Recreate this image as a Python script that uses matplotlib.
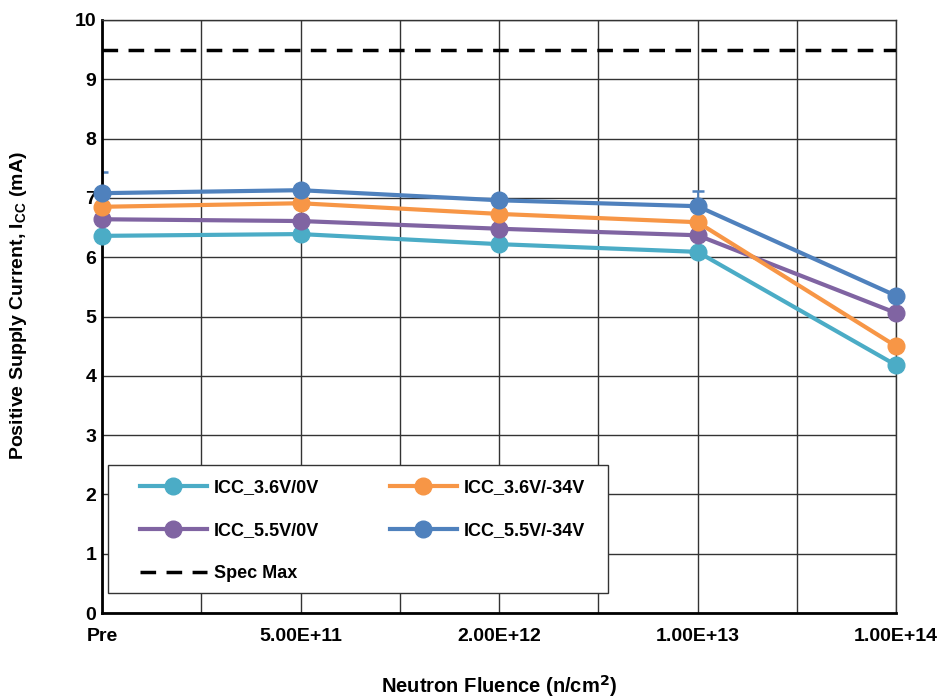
import matplotlib
matplotlib.use("Agg")
from matplotlib import pyplot as plt
from matplotlib.patches import Rectangle
import numpy as np

plt.rcParams['font.family'] = ['Liberation Sans', 'DejaVu Sans']

categories = ["Pre", "5.00E+11", "2.00E+12", "1.00E+13", "1.00E+14"]
icc_36_0 = [6.36, 6.39, 6.22, 6.09, 4.18]
icc_36_34 = [6.85, 6.91, 6.73, 6.59, 4.50]
icc_55_0 = [6.64, 6.61, 6.48, 6.37, 5.06]
icc_55_34 = [7.08, 7.13, 6.96, 6.86, 5.35]
spec_max = 9.5
# upper error bars seen on ICC_5.5V/-34V
err_idx = [0, 3]
err_up = [0.35, 0.26]

colmap = {"ICC_3.6V/0V": "#4bacc6", "ICC_3.6V/-34V": "#f79646",
          "ICC_5.5V/0V": "#8064a2", "ICC_5.5V/-34V": "#4f81bd"}

fig = plt.figure(figsize=(9.41, 6.99), dpi=100)
ax = fig.add_axes([0.1084, 0.123, 0.8438, 0.8484])
x = np.arange(len(categories))

series = [("ICC_3.6V/0V", icc_36_0), ("ICC_5.5V/0V", icc_55_0),
          ("ICC_3.6V/-34V", icc_36_34), ("ICC_5.5V/-34V", icc_55_34)]
handles = {}
for name, vals in series:
    h, = ax.plot(x, vals, color=colmap[name], lw=3, marker="o", ms=12,
                 label=name, zorder=3, clip_on=False)
    handles[name] = h

ex = [x[i] for i in err_idx]
ey = [icc_55_34[i] for i in err_idx]
ax.errorbar(ex, ey, yerr=[np.zeros(len(err_up)), err_up], fmt="none",
            ecolor=colmap["ICC_5.5V/-34V"], elinewidth=1.3, capsize=4.5,
            capthick=1.8, zorder=2)

spec, = ax.plot([0, 4], [spec_max, spec_max], color="black", lw=2.5,
                dashes=(4.5, 3), label="Spec Max", zorder=3)

ax.set_xlim(0, 4)
ax.set_ylim(0, 10)
ax.set_xticks(x)
ax.set_xticklabels(categories)
ax.set_xticks(np.arange(0.5, 4, 1), minor=True)
ax.set_yticks(range(0, 11))
ax.tick_params(which="both", length=0)
ax.tick_params(axis="x", pad=11)
ax.tick_params(axis="y", pad=4)
for lab in ax.get_xticklabels() + ax.get_yticklabels():
    lab.set_fontweight("bold")
    lab.set_fontsize(14)
ax.grid(True, which="both", color="#333333", lw=1)
ax.set_axisbelow(True)
for s in ["top", "right"]:
    ax.spines[s].set_color("#333333")
    ax.spines[s].set_linewidth(1)
for s in ["left", "bottom"]:
    ax.spines[s].set_color("black")
    ax.spines[s].set_linewidth(2)

ax.set_xlabel("Neutron Fluence (n/cm$\\mathbf{^2}$)", fontsize=14.5,
              fontweight="bold", va="center")
ax.xaxis.set_label_coords(0.5, -(686 - 613) / 593)
ax.set_ylabel("Positive Supply Current, I$_{\\mathregular{CC}}$ (mA)",
              fontsize=14, fontweight="bold", va="center")
ax.yaxis.set_label_coords((18 - 102) / 794, (613 - 306) / 593)

# legend frame drawn separately so inner padding can match
ax.add_patch(Rectangle(((108 - 102) / 794, (613 - 593) / 593),
                       500 / 794, 128 / 593, transform=ax.transAxes,
                       facecolor="white", edgecolor="#333333", lw=1,
                       zorder=4))
order = ["ICC_3.6V/0V", "ICC_5.5V/0V", None, "ICC_3.6V/-34V", "ICC_5.5V/-34V"]
hs = [handles[n] if n else spec for n in order]
ls = [n if n else "Spec Max" for n in order]
leg = ax.legend(hs, ls, ncol=2, loc="upper left",
                bbox_to_anchor=((140 - 102) / 794, (613 - 479) / 593),
                borderaxespad=0, borderpad=0, frameon=False,
                handlelength=3.7, labelspacing=1.45,
                prop={"weight": "bold", "size": 13},
                handletextpad=0.4, columnspacing=3.9)
leg.set_zorder(5)

fig.savefig("out.png", dpi=100)
